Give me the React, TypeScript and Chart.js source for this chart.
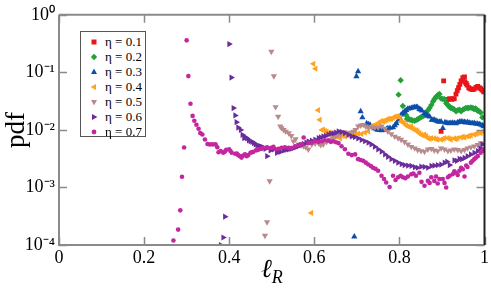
import React, { useEffect, useRef } from "react";
import { Chart, registerables } from "chart.js";

Chart.register(...registerables);

// ---- data (ℓ_R values and pdf values) ----
const seriesNames = ["η = 0.1", "η = 0.2", "η = 0.3", "η = 0.4", "η = 0.5", "η = 0.6", "η = 0.7"];

const eta01L = [0.898, 0.904, 0.911, 0.918, 0.923, 0.929, 0.933, 0.939, 0.945, 0.949, 0.953, 0.954, 0.959, 0.963, 0.968, 0.976, 0.980, 0.984, 0.991, 0.998,
  0.914, 0.926, 0.936, 0.942, 0.957, 0.966, 0.972, 0.988, 0.994];
const eta01Pdf = [9.4e-3, 7.1e-2, 3.3e-2, 3.5e-2, 3.4e-2, 3.5e-2, 4.2e-2, 5.4e-2, 7.1e-2, 8.1e-2, 8.3e-2, 6.8e-2, 6.0e-2, 5.4e-2, 5.1e-2, 5.1e-2, 5.5e-2, 5.7e-2, 5.2e-2, 4.6e-2,
  3.4e-2, 3.45e-2, 4.8e-2, 6.2e-2, 6.4e-2, 5.2e-2, 5.0e-2, 5.4e-2, 4.9e-2];

const eta02L = [0.798, 0.803, 0.808, 0.814, 0.816, 0.820, 0.827, 0.836, 0.841, 0.847, 0.853, 0.859, 0.867, 0.871, 0.875, 0.879, 0.882, 0.887, 0.890, 0.894, 0.898, 0.906, 0.910, 0.916, 0.921, 0.928, 0.933, 0.941, 0.945, 0.949, 0.956, 0.963, 0.968, 0.974, 0.979, 0.984, 0.988, 0.995,
  0.818, 0.823, 0.831, 0.844, 0.850, 0.856, 0.863, 0.885, 0.902, 0.913, 0.918, 0.925, 0.937, 0.952, 0.960, 0.971, 0.976, 0.982, 0.991];
const eta02Pdf = [4.1e-2, 7.3e-2, 2.6e-2, 2.1e-2, 1.8e-2, 1.6e-2, 1.5e-2, 1.44e-2, 1.5e-2, 1.6e-2, 1.7e-2, 1.8e-2, 2.2e-2, 2.4e-2, 2.7e-2, 3.1e-2, 3.4e-2, 3.8e-2, 4.0e-2, 4.2e-2, 3.5e-2, 3.4e-2, 2.9e-2, 2.6e-2, 2.4e-2, 2.3e-2, 2.1e-2, 2.25e-2, 2.1e-2, 2.25e-2, 2.4e-2, 2.4e-2, 2.45e-2, 2.35e-2, 2.35e-2, 2.15e-2, 2.1e-2, 1.65e-2,
  1.55e-2, 1.52e-2, 1.46e-2, 1.55e-2, 1.65e-2, 1.75e-2, 2.0e-2, 3.6e-2, 3.45e-2, 2.75e-2, 2.5e-2, 2.35e-2, 2.2e-2, 2.3e-2, 2.4e-2, 2.4e-2, 2.3e-2, 2.25e-2, 2.0e-2];

const eta03L = [0.694, 0.699, 0.703, 0.709, 0.713, 0.723, 0.731, 0.742, 0.750, 0.758, 0.766, 0.773, 0.785, 0.793, 0.801, 0.804, 0.812, 0.820, 0.828, 0.836, 0.843, 0.847, 0.853, 0.859, 0.864, 0.871, 0.876, 0.882, 0.890, 0.898, 0.902, 0.907, 0.914, 0.921, 0.929, 0.937, 0.945, 0.953, 0.960, 0.968, 0.976, 0.984, 0.991, 0.998,
  0.727, 0.738, 0.746, 0.754, 0.762, 0.770, 0.778, 0.789, 0.797, 0.808, 0.816, 0.824, 0.832, 0.840, 0.850, 0.867, 0.879, 0.886, 0.894, 0.910, 0.918, 0.925, 0.933, 0.941, 0.949, 0.956, 0.964, 0.972, 0.980, 0.988, 0.995];
const eta03Pdf = [1.4e-4, 8.5e-2, 1.04e-1, 2.1e-2, 1.64e-2, 1.3e-2, 1.23e-2, 1.06e-2, 1.0e-2, 9.8e-3, 1.0e-2, 1.06e-2, 1.1e-2, 1.3e-2, 1.6e-2, 1.83e-2, 2.07e-2, 2.33e-2, 2.4e-2, 2.5e-2, 2.46e-2, 2.3e-2, 2.16e-2, 1.94e-2, 1.84e-2, 1.7e-2, 1.49e-2, 1.49e-2, 1.4e-2, 1.4e-2, 1.07e-2, 1.35e-2, 1.31e-2, 1.31e-2, 1.31e-2, 1.35e-2, 1.4e-2, 1.36e-2, 1.37e-2, 1.31e-2, 1.31e-2, 1.27e-2, 1.23e-2, 1.15e-2,
  1.25e-2, 1.12e-2, 1.02e-2, 9.9e-3, 1.0e-2, 1.03e-2, 1.08e-2, 1.2e-2, 1.45e-2, 1.95e-2, 2.2e-2, 2.35e-2, 2.45e-2, 2.5e-2, 2.25e-2, 1.75e-2, 1.5e-2, 1.45e-2, 1.38e-2, 1.33e-2, 1.3e-2, 1.33e-2, 1.3e-2, 1.38e-2, 1.38e-2, 1.34e-2, 1.33e-2, 1.3e-2, 1.28e-2, 1.25e-2, 1.2e-2];

const eta04L = [0.593, 0.598, 0.603, 0.609, 0.613, 0.618, 0.621, 0.629, 0.641, 0.649, 0.657, 0.661, 0.672, 0.680, 0.696, 0.711, 0.727, 0.734, 0.742, 0.750, 0.758, 0.766, 0.773, 0.781, 0.789, 0.793, 0.801, 0.804, 0.812, 0.820, 0.828, 0.836, 0.843, 0.851, 0.859, 0.867, 0.875, 0.882, 0.890, 0.898, 0.906, 0.914, 0.921, 0.929, 0.937, 0.945, 0.953, 0.960, 0.968, 0.976, 0.984, 0.991, 0.995,
  0.625, 0.635, 0.645, 0.666, 0.688, 0.703, 0.719, 0.738, 0.746, 0.754, 0.762, 0.770, 0.777, 0.785, 0.797, 0.808, 0.816, 0.824, 0.832, 0.840, 0.847, 0.855, 0.863, 0.871, 0.886, 0.902, 0.918, 0.933, 0.949, 0.964, 0.980];
const eta04Pdf = [3.6e-4, 1.41e-1, 1.16e-1, 2.2e-2, 1.5e-2, 1.0e-2, 1.0e-2, 9.3e-3, 8.8e-3, 7.7e-3, 8.3e-3, 7.1e-3, 7.7e-3, 8.0e-3, 8.3e-3, 8.5e-3, 9.4e-3, 1.15e-2, 1.2e-2, 1.31e-2, 1.43e-2, 1.43e-2, 1.56e-2, 1.56e-2, 1.7e-2, 1.7e-2, 1.64e-2, 1.4e-2, 1.31e-2, 1.15e-2, 1.15e-2, 1.0e-2, 9.4e-3, 8.3e-3, 8.3e-3, 7.2e-3, 7.2e-3, 7.1e-3, 6.8e-3, 6.8e-3, 7.2e-3, 7.2e-3, 6.8e-3, 7.1e-3, 7.2e-3, 7.4e-3, 7.4e-3, 7.7e-3, 8.0e-3, 8.3e-3, 8.8e-3, 8.8e-3, 9.4e-3,
  9.6e-3, 9.0e-3, 8.2e-3, 7.9e-3, 8.1e-3, 8.6e-3, 9.0e-3, 1.18e-2, 1.25e-2, 1.35e-2, 1.4e-2, 1.5e-2, 1.55e-2, 1.62e-2, 1.75e-2, 1.35e-2, 1.2e-2, 1.12e-2, 1.05e-2, 9.8e-3, 8.8e-3, 8.0e-3, 7.8e-3, 7.0e-3, 6.9e-3, 7.0e-3, 7.0e-3, 6.9e-3, 7.6e-3, 7.9e-3, 8.5e-3];

const eta05L = [0.484, 0.489, 0.495, 0.499, 0.505, 0.509, 0.515, 0.520, 0.523, 0.528, 0.533, 0.540, 0.546, 0.551, 0.556, 0.563, 0.575, 0.586, 0.594, 0.610, 0.621, 0.637, 0.649, 0.661, 0.671, 0.680, 0.692, 0.703, 0.715, 0.727, 0.742, 0.758, 0.773, 0.789, 0.804, 0.820, 0.836, 0.851, 0.867, 0.882, 0.898, 0.914, 0.929, 0.945, 0.960, 0.976, 0.991,
  0.569, 0.580, 0.602, 0.615, 0.629, 0.643, 0.655, 0.686, 0.697, 0.709, 0.721, 0.735, 0.750, 0.766, 0.781, 0.797, 0.812, 0.828, 0.843, 0.859, 0.875, 0.890, 0.906, 0.921, 0.937, 0.953, 0.968, 0.984];
const eta05Pdf = [1.46e-4, 2.5e-4, 1.29e-3, 2.3e-1, 8.6e-2, 2.5e-2, 1.7e-2, 1.15e-2, 1.08e-2, 1.0e-2, 9.4e-3, 8.8e-3, 7.9e-3, 6.35e-3, 6.9e-3, 5.6e-3, 5.2e-3, 4.6e-3, 5.6e-3, 5.9e-3, 5.6e-3, 6.8e-3, 7.7e-3, 8.3e-3, 9.2e-3, 8.8e-3, 9.4e-3, 1.15e-2, 1.23e-2, 1.1e-2, 1.1e-2, 1.15e-2, 9.4e-3, 7.7e-3, 6.8e-3, 5.6e-3, 4.8e-3, 4.3e-3, 4.6e-3, 4.4e-3, 4.8e-3, 4.3e-3, 4.6e-3, 4.3e-3, 4.8e-3, 5.2e-3, 5.9e-3,
  5.4e-3, 5.0e-3, 5.8e-3, 5.5e-3, 6.2e-3, 7.2e-3, 8.0e-3, 9.0e-3, 1.0e-2, 1.2e-2, 1.15e-2, 1.12e-2, 1.1e-2, 1.05e-2, 8.5e-3, 7.2e-3, 6.2e-3, 5.1e-3, 4.5e-3, 4.2e-3, 4.7e-3, 4.3e-3, 4.6e-3, 4.4e-3, 4.5e-3, 4.5e-3, 5.0e-3, 5.5e-3];

const eta06L = [0.380, 0.386, 0.390, 0.400, 0.405, 0.410, 0.414, 0.417, 0.421, 0.427, 0.435, 0.442, 0.450, 0.458, 0.466, 0.474, 0.481, 0.489, 0.505, 0.512, 0.520, 0.528, 0.540, 0.551, 0.563, 0.575, 0.586, 0.602, 0.610, 0.621, 0.633, 0.645, 0.657, 0.672, 0.688, 0.703, 0.719, 0.734, 0.750, 0.766, 0.781, 0.797, 0.812, 0.828, 0.843, 0.859, 0.875, 0.890, 0.906, 0.918, 0.929, 0.941, 0.953, 0.968, 0.984, 0.995,
  0.431, 0.439, 0.446, 0.454, 0.462, 0.470, 0.478, 0.485, 0.497, 0.516, 0.534, 0.546, 0.557, 0.569, 0.581, 0.594, 0.615, 0.627, 0.639, 0.651, 0.664, 0.680, 0.695, 0.711, 0.727, 0.742, 0.758, 0.773, 0.789, 0.805, 0.820, 0.836, 0.851, 0.867, 0.882, 0.898, 0.912, 0.935, 0.947, 0.960, 0.976, 0.990];
const eta06Pdf = [1.0e-4, 1.35e-4, 3.1e-4, 3.1e-1, 8.1e-2, 2.4e-2, 1.78e-2, 1.36e-2, 1.1e-2, 1.0e-2, 7.2e-3, 7.1e-3, 6.35e-3, 5.9e-3, 5.4e-3, 5.2e-3, 4.9e-3, 3.5e-3, 4.6e-3, 4.0e-3, 4.15e-3, 4.4e-3, 4.6e-3, 4.8e-3, 5.2e-3, 5.7e-3, 6.35e-3, 6.8e-3, 7.2e-3, 7.7e-3, 8.3e-3, 8.7e-3, 9.4e-3, 8.8e-3, 7.7e-3, 7.1e-3, 6.35e-3, 5.6e-3, 4.6e-3, 3.75e-3, 3.1e-3, 2.7e-3, 2.45e-3, 2.36e-3, 2.2e-3, 2.27e-3, 2.36e-3, 2.45e-3, 2.7e-3, 2.45e-3, 2.96e-3, 3.15e-3, 3.25e-3, 3.75e-3, 4.3e-3, 5.6e-3,
  8.2e-3, 7.4e-3, 6.6e-3, 6.2e-3, 5.6e-3, 5.3e-3, 5.0e-3, 4.7e-3, 4.4e-3, 4.3e-3, 4.5e-3, 4.7e-3, 5.0e-3, 5.5e-3, 6.0e-3, 6.5e-3, 7.4e-3, 7.9e-3, 8.6e-3, 9.0e-3, 9.2e-3, 8.2e-3, 7.5e-3, 6.7e-3, 6.0e-3, 5.1e-3, 4.2e-3, 3.4e-3, 2.9e-3, 2.55e-3, 2.4e-3, 2.25e-3, 2.3e-3, 2.2e-3, 2.4e-3, 2.5e-3, 2.8e-3, 2.9e-3, 3.1e-3, 3.5e-3, 4.0e-3, 4.8e-3];

const eta07L = [0.269, 0.280, 0.285, 0.289, 0.294, 0.300, 0.304, 0.309, 0.314, 0.318, 0.323, 0.328, 0.332, 0.337, 0.343, 0.349, 0.354, 0.361, 0.368, 0.375, 0.380, 0.386, 0.393, 0.400, 0.406, 0.414, 0.421, 0.429, 0.437, 0.445, 0.450, 0.456, 0.463, 0.471, 0.481, 0.489, 0.499, 0.509, 0.523, 0.540, 0.555, 0.571, 0.575, 0.586, 0.602, 0.618, 0.633, 0.645, 0.657, 0.664, 0.672, 0.680, 0.688, 0.696, 0.703, 0.715, 0.727, 0.738, 0.750, 0.758, 0.769, 0.777, 0.785, 0.797, 0.808, 0.820, 0.828, 0.839, 0.847, 0.859, 0.867, 0.875, 0.882, 0.890, 0.894, 0.902, 0.910, 0.918, 0.925, 0.933, 0.941, 0.949, 0.953, 0.960, 0.968, 0.976, 0.984, 0.991, 0.998,
  0.372, 0.390, 0.403, 0.418, 0.425, 0.433, 0.441, 0.453, 0.467, 0.476, 0.494, 0.504, 0.516, 0.531, 0.547, 0.563, 0.594, 0.610, 0.625, 0.639, 0.651, 0.709, 0.721, 0.733, 0.744, 0.764, 0.791, 0.803, 0.814, 0.833, 0.852, 0.871, 0.886, 0.906, 0.914, 0.929, 0.937, 0.945, 0.957, 0.972, 0.980, 0.995];
const eta07Pdf = [1.2e-4, 1.85e-4, 4.0e-4, 1.53e-3, 4.95e-3, 3.6e-1, 8.6e-2, 2.85e-2, 1.75e-2, 1.44e-2, 1.23e-2, 1.05e-2, 8.8e-3, 8.3e-3, 6.8e-3, 5.7e-3, 5.6e-3, 5.6e-3, 5.6e-3, 4.1e-3, 4.3e-3, 4.0e-3, 4.5e-3, 4.6e-3, 4.0e-3, 3.85e-3, 3.65e-3, 3.3e-3, 3.75e-3, 3.65e-3, 4.0e-3, 4.15e-3, 4.4e-3, 4.6e-3, 4.9e-3, 5.0e-3, 4.9e-3, 4.6e-3, 4.9e-3, 4.9e-3, 5.2e-3, 5.6e-3, 7.4e-3, 5.9e-3, 6.35e-3, 6.35e-3, 6.5e-3, 6.35e-3, 5.9e-3, 5.2e-3, 4.6e-3, 3.85e-3, 3.65e-3, 3.75e-3, 3.1e-3, 2.9e-3, 2.5e-3, 2.2e-3, 1.95e-3, 1.6e-3, 1.22e-3, 1.02e-3, 1.6e-3, 1.5e-3, 1.5e-3, 1.55e-3, 1.7e-3, 1.6e-3, 1.8e-3, 1.07e-3, 1.3e-3, 1.5e-3, 1.3e-3, 1.17e-3, 1.4e-3, 1.4e-3, 1.0e-3, 1.6e-3, 1.7e-3, 1.8e-3, 1.95e-3, 2.07e-3, 1.55e-3, 2.27e-3, 2.7e-3, 3.1e-3, 3.5e-3, 4.0e-3, 4.6e-3,
  5.0e-3, 4.2e-3, 4.3e-3, 3.9e-3, 3.5e-3, 3.6e-3, 3.5e-3, 4.1e-3, 4.5e-3, 4.7e-3, 4.8e-3, 5.1e-3, 4.7e-3, 5.0e-3, 4.8e-3, 5.4e-3, 6.0e-3, 6.2e-3, 6.6e-3, 6.2e-3, 6.1e-3, 3.0e-3, 2.7e-3, 2.35e-3, 2.1e-3, 1.4e-3, 1.35e-3, 1.6e-3, 1.45e-3, 1.75e-3, 1.25e-3, 1.2e-3, 1.55e-3, 1.2e-3, 1.5e-3, 1.9e-3, 1.65e-3, 2.2e-3, 2.4e-3, 2.9e-3, 3.3e-3, 4.3e-3];

const xTickValues = [0, 0.2, 0.4, 0.6, 0.8, 1];
const xTickLabels = ["0", "0.2", "0.4", "0.6", "0.8", "1"];
const yTickValues = [1e-4, 1e-3, 1e-2, 1e-1, 1];
const yTickLabels = ["10⁻⁴", "10⁻³", "10⁻²", "10⁻¹", "10⁰"];

// ---- styles (kept apart from the data) ----
const seriesL = [eta01L, eta02L, eta03L, eta04L, eta05L, eta06L, eta07L];
const seriesPdf = [eta01Pdf, eta02Pdf, eta03Pdf, eta04Pdf, eta05Pdf, eta06Pdf, eta07Pdf];
const seriesColors = ["#e8161b", "#23a03a", "#0d4fa8", "#ffa21f", "#b88a8c", "#6b2c9b", "#c3279f"];
const seriesShapes = ["square", "diamond", "up", "left", "down", "right", "circle"];

const FONT = "'Liberation Serif', 'Times New Roman', serif";

function pointStyleFor(shape: string) {
  switch (shape) {
    case "square": return { pointStyle: "rect", rotation: 0, pointRadius: 3.4 };
    case "diamond": return { pointStyle: "rectRot", rotation: 0, pointRadius: 3.2 };
    case "up": return { pointStyle: "triangle", rotation: 0, pointRadius: 3.6 };
    case "left": return { pointStyle: "triangle", rotation: 270, pointRadius: 3.6 };
    case "down": return { pointStyle: "triangle", rotation: 180, pointRadius: 3.6 };
    case "right": return { pointStyle: "triangle", rotation: 90, pointRadius: 3.6 };
    default: return { pointStyle: "circle", rotation: 0, pointRadius: 2.3 };
  }
}

const framePlugin = {
  id: "frame",
  afterDatasetsDraw(chart: any) {
    const { ctx, chartArea } = chart;
    const { left, right, top, bottom } = chartArea;
    const xs = chart.scales.x;
    const ys = chart.scales.y;
    ctx.save();
    ctx.lineCap = "butt";
    ctx.strokeStyle = "#8a8a8a";
    ctx.lineWidth = 1.5;
    const tl = 8;
    xTickValues.forEach((v) => {
      const px = Math.round(xs.getPixelForValue(v)) + 0.5;
      ctx.beginPath();
      ctx.moveTo(px, bottom);
      ctx.lineTo(px, bottom - tl);
      ctx.moveTo(px, top);
      ctx.lineTo(px, top + tl);
      ctx.stroke();
    });
    yTickValues.forEach((v) => {
      const py = Math.round(ys.getPixelForValue(v)) + 0.5;
      ctx.beginPath();
      ctx.moveTo(left, py);
      ctx.lineTo(left + tl, py);
      ctx.moveTo(right, py);
      ctx.lineTo(right - tl, py);
      ctx.stroke();
    });
    ctx.lineWidth = 2;
    ctx.strokeStyle = "#8a8a8a";
    ctx.beginPath();
    ctx.moveTo(left, top);
    ctx.lineTo(left, bottom);
    ctx.lineTo(right, bottom);
    ctx.moveTo(left, top);
    ctx.lineTo(right, top);
    ctx.stroke();
    ctx.strokeStyle = "#222";
    ctx.beginPath();
    ctx.moveTo(right, top);
    ctx.lineTo(right, bottom);
    ctx.stroke();
    ctx.restore();
  },
};

function LegendMarker({ shape, color }: { shape: string; color: string }) {
  let el: any;
  switch (shape) {
    case "square": el = <rect x={-2.5} y={-2.5} width={5} height={5} fill={color} />; break;
    case "diamond": el = <polygon points="0,-3.2 3.2,0 0,3.2 -3.2,0" fill={color} />; break;
    case "up": el = <polygon points="0,-3.4 3,2 -3,2" fill={color} />; break;
    case "left": el = <polygon points="-3.4,0 2,-3 2,3" fill={color} />; break;
    case "down": el = <polygon points="0,3.4 3,-2 -3,-2" fill={color} />; break;
    case "right": el = <polygon points="3.4,0 -2,-3 -2,3" fill={color} />; break;
    default: el = <circle cx={0} cy={0} r={2.4} fill={color} />;
  }
  return (
    <svg width={10} height={10} viewBox="-5 -5 10 10" style={{ position: "absolute", left: 8, top: -5 }}>
      {el}
    </svg>
  );
}

export default function App() {
  const canvasRef = useRef<HTMLCanvasElement | null>(null);

  useEffect(() => {
    if (!canvasRef.current) return;
    const datasets = seriesNames.map((name, i) => {
      const L = seriesL[i];
      const P = seriesPdf[i];
      const n = Math.min(L.length, P.length);
      const data = [] as { x: number; y: number }[];
      for (let k = 0; k < n; k++) data.push({ x: L[k], y: P[k] });
      const ps = pointStyleFor(seriesShapes[i]);
      return {
        label: name,
        data,
        showLine: false,
        pointStyle: ps.pointStyle,
        rotation: ps.rotation,
        pointRadius: ps.pointRadius,
        pointHoverRadius: ps.pointRadius,
        pointBackgroundColor: seriesColors[i],
        pointBorderColor: seriesColors[i],
        pointBorderWidth: 0,
        order: seriesNames.length - i,
      };
    });

    const chart = new Chart(canvasRef.current, {
      type: "scatter",
      data: { datasets: datasets as any },
      options: {
        animation: false,
        responsive: false,
        devicePixelRatio: 1,
        layout: { padding: { left: 0, right: 4, top: 12, bottom: 0 } },
        plugins: { legend: { display: false }, tooltip: { enabled: false } },
        scales: {
          x: {
            type: "linear",
            min: 0,
            max: 1,
            afterBuildTicks: (s: any) => {
              s.ticks = xTickValues.map((v) => ({ value: v }));
            },
            afterFit: (s: any) => {
              s.height = 46;
            },
            ticks: {
              autoSkip: false,
              maxRotation: 0,
              padding: 2,
              color: "#000",
              font: { family: FONT, size: 18 },
              callback: (_v: any, i: number) => xTickLabels[i],
            },
            grid: { display: false, drawTicks: false, tickLength: 0 },
            border: { display: false },
          },
          y: {
            type: "logarithmic",
            min: 1e-4,
            max: 1,
            afterBuildTicks: (s: any) => {
              s.ticks = yTickValues.map((v) => ({ value: v }));
            },
            afterFit: (s: any) => {
              s.width = 59;
            },
            ticks: {
              autoSkip: false,
              padding: 4,
              color: "#000",
              font: { family: FONT, size: 18 },
              callback: (_v: any, i: number) => yTickLabels[i],
            },
            grid: { display: false, drawTicks: false, tickLength: 0 },
            border: { display: false },
            title: {
              display: true,
              text: "pdf",
              color: "#000",
              font: { family: FONT, size: 27 },
              padding: { top: 1, bottom: 0 },
            },
          },
        },
      },
      plugins: [framePlugin],
    } as any);
    return () => chart.destroy();
  }, []);

  return (
    <div style={{ position: "fixed", left: 0, top: 0, width: 491, height: 291, background: "#fff", overflow: "hidden" }}>
      <canvas ref={canvasRef} width={491} height={291} style={{ display: "block" }} />
      <div
        style={{
          position: "absolute",
          left: 80,
          top: 31,
          width: 66,
          height: 106,
          border: "1px solid #555",
          background: "#fff",
          boxSizing: "border-box",
        }}
      >
        {seriesNames.map((name, i) => (
          <div key={name} style={{ position: "absolute", left: 0, top: 10 + i * 15, height: 0 }}>
            <LegendMarker shape={seriesShapes[i]} color={seriesColors[i]} />
            <span
              style={{
                position: "absolute",
                left: 24,
                top: -8,
                fontFamily: FONT,
                fontSize: 13,
                lineHeight: "16px",
                whiteSpace: "nowrap",
                color: "#000",
              }}
            >
              {name}
            </span>
          </div>
        ))}
      </div>
      <div style={{ position: "absolute", left: 261, top: 256, fontFamily: FONT, color: "#000", lineHeight: 1, whiteSpace: "nowrap" }}>
        <span style={{ fontSize: 26, fontStyle: "italic" }}>ℓ</span>
        <span style={{ fontSize: 18, fontStyle: "italic", position: "relative", top: 6 }}>R</span>
      </div>
    </div>
  );
}
